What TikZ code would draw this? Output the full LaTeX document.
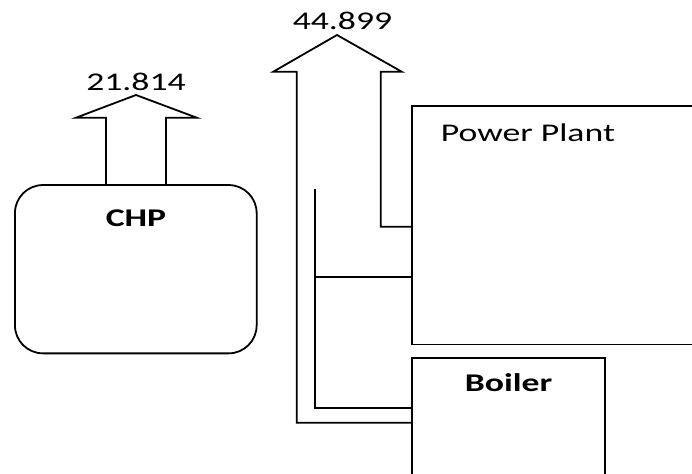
\documentclass[tikz,border=0pt]{standalone}
\usepackage{fontspec}
\setmainfont[FakeStretch=1.4]{Carlito}
\usepackage{tikz}
\usetikzlibrary{positioning}

\begin{document}
\begin{tikzpicture}[x=1pt, y=-1pt, line width=1.8pt,
	unitbox/.style={draw, rectangle, inner sep=0pt, outer sep=0pt},
	valuelabel/.style={font=\fontsize{25.5}{30}\selectfont, inner sep=0pt},
	boxlabel/.style={font=\fontsize{25.5}{30}\selectfont\bfseries, inner sep=0pt}]
	\useasboundingbox (0,0) rectangle (692,473);
	\clip (0,0) rectangle (692,473);
	% Units
	\node[unitbox, rounded corners=28pt, minimum width=241.7pt, minimum height=168.3pt] (chp) at (135.8,269.2) {};
	\node[unitbox, minimum width=348pt, minimum height=238.5pt] (pp) at (586,225.3) {};
	\node[unitbox, minimum width=193pt, minimum height=161.7pt] (boiler) at (508.5,439.2) {};

	\node[boxlabel] (chplbl) at (136,218) {CHP};
	\node[valuelabel, anchor=west] (pplbl) at (440,133) {Power Plant};
	\node[boxlabel] (boilerlbl) at (508.5,382.7) {Boiler};

	% Heat flows
	\draw (106,0 |- chp.north) -- (106,117.7) -- (76,117.7) -- (136,95) -- (196.7,117.7) -- (166,117.7) -- (166,0 |- chp.north);
	\node[valuelabel] (chpout) at (136,82) {21.814};

	\draw (boiler.west |- 0,422.7) -- (296.7,422.7) -- (296.7,71.7) -- (273.3,71.7) -- (337,35) -- (401.7,71.7) -- (380.7,71.7) -- (380.7,226.7) -- (pp.west |- 0,226.7);
	\node[valuelabel] (totout) at (342.5,21.3) {44.899};

	\draw (315,189.3) -- (315,407.7) -- (boiler.west |- 0,407.7);
	\draw (315,277.3) -- (pp.west |- 0,277.3);
\end{tikzpicture}
\end{document}
